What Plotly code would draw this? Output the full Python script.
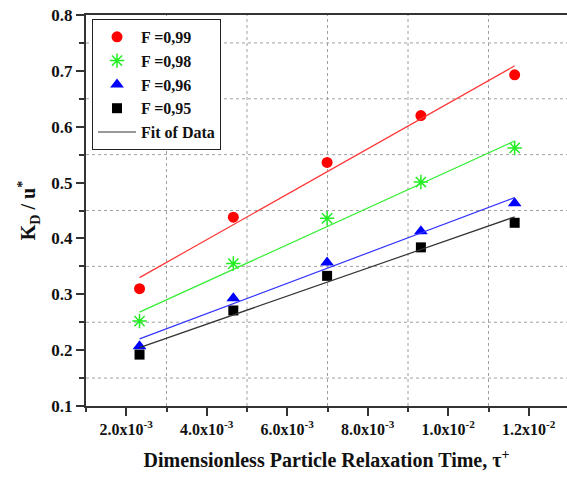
import numpy as np
import plotly.graph_objects as go

# ---- data ----
tau = [2.33e-3, 4.66e-3, 6.99e-3, 9.32e-3, 11.65e-3]
series_names = ["F =0,99", "F =0,98", "F =0,96", "F =0,95"]
kd_099 = [0.310, 0.438, 0.536, 0.620, 0.693]
kd_098 = [0.252, 0.355, 0.436, 0.501, 0.562]
kd_096 = [0.207, 0.293, 0.357, 0.413, 0.463]
kd_095 = [0.192, 0.271, 0.333, 0.384, 0.428]
x_tickvals = [2e-3, 4e-3, 6e-3, 8e-3, 10e-3, 12e-3]
x_ticktext = ["2.0x10<sup>-3</sup>", "4.0x10<sup>-3</sup>", "6.0x10<sup>-3</sup>",
              "8.0x10<sup>-3</sup>", "1.0x10<sup>-2</sup>", "1.2x10<sup>-2</sup>"]
y_tickvals = [0.1, 0.2, 0.3, 0.4, 0.5, 0.6, 0.7, 0.8]
x_gridvals = [3e-3, 5e-3, 7e-3, 9e-3, 11e-3]
y_gridvals = [0.15, 0.25, 0.35, 0.45, 0.55, 0.65, 0.75]
x_range = [1.0e-3, 12.95e-3]
y_range = [0.1, 0.8]

colors = ["#ff0000", "#22ee22", "#0000ff", "#000000"]
line_colors = ["#ff3333", "#33ee33", "#3333ff", "#333333"]
symbols = ["circle", "asterisk-open", "triangle-up", "square"]
sizes = [11, 12, 12, 10]
all_series = [kd_099, kd_098, kd_096, kd_095]

FONT = "Liberation Serif"
fig = go.Figure()

# dotted grid at the minor-tick positions, drawn as line traces beneath the data
gx_pts, gy_pts = [], []
for gx in x_gridvals:
    gx_pts += [gx, gx, None]
    gy_pts += [y_range[0], y_range[1], None]
for gy in y_gridvals:
    gx_pts += [x_range[0], x_range[1], None]
    gy_pts += [gy, gy, None]
fig.add_trace(go.Scatter(x=gx_pts, y=gy_pts, mode="lines", showlegend=False,
                         hoverinfo="skip", connectgaps=False,
                         line=dict(color="#a0a0a0", width=1, dash="dot")))

for name, ys, c, s, sz in zip(series_names, all_series, colors, symbols, sizes):
    mk = dict(color=c, size=sz, symbol=s)
    if s == "asterisk-open":
        mk["line"] = dict(color=c, width=1.5)
    fig.add_trace(go.Scatter(x=tau, y=ys, mode="markers", name=name, marker=mk))

# linear fits of each series
x_arr = np.array(tau)
for i, (ys, lc) in enumerate(zip(all_series, line_colors)):
    p = np.polyfit(x_arr, np.array(ys), 1)
    yfit = np.polyval(p, x_arr)
    fig.add_trace(go.Scatter(
        x=[x_arr[0], x_arr[-1]], y=[yfit[0], yfit[-1]], mode="lines",
        line=dict(color=lc, width=1.2),
        name="Fit of Data", showlegend=(i == 3)))

axis_line = dict(showline=True, linecolor="#333333", linewidth=2,
                 ticks="outside", tickcolor="#333333", tickwidth=1.5,
                 zeroline=False, showgrid=False)

fig.update_layout(
    width=567, height=479,
    margin=dict(l=86, r=0, t=15, b=73),
    paper_bgcolor="white", plot_bgcolor="white",
    font=dict(family=FONT, size=15, color="#111111", weight="bold"),
    showlegend=True,
    legend=dict(x=0.0125, y=0.99, xanchor="left", yanchor="top",
                bordercolor="#222222", borderwidth=1, bgcolor="white",
                font=dict(family=FONT, size=16, color="#111111", weight="bold"),
                tracegroupgap=0, itemwidth=38),
    xaxis=dict(range=x_range, tickvals=x_tickvals, ticktext=x_ticktext,
               ticklen=8, mirror=True,
               tickfont=dict(family=FONT, size=16, weight="bold"),
               title=dict(text="Dimensionless Particle Relaxation Time, τ<sup>+</sup>",
                          font=dict(family=FONT, size=20, weight="bold"), standoff=16),
               minor=dict(dtick=2e-3, tick0=1e-3, ticks="outside", ticklen=4,
                          tickcolor="#333333"),
               **axis_line),
    yaxis=dict(range=y_range, tickvals=y_tickvals,
               tickformat=".1f", ticklen=8, mirror=False,
               tickfont=dict(family=FONT, size=17, weight="bold"),
               title=dict(text="K<sub>D</sub> / u<sup>*</sup>",
                          font=dict(family=FONT, size=20, weight="bold"), standoff=10),
               minor=dict(dtick=0.1, tick0=0.05, ticks="outside", ticklen=5,
                          tickcolor="#333333"),
               **axis_line),
)

fig.write_html("out.html")
